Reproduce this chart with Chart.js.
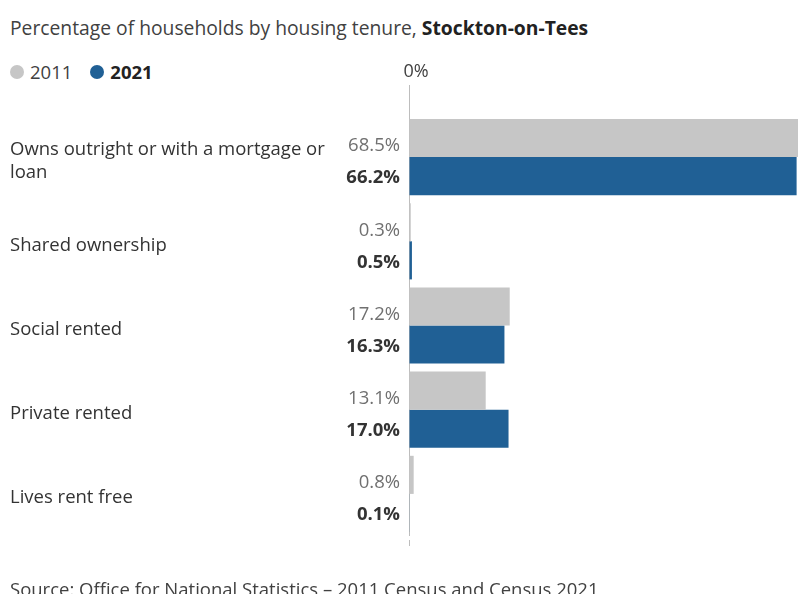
<!DOCTYPE html>
<html>
<head>
<meta charset="utf-8">
<script src="https://cdn.jsdelivr.net/npm/chart.js@4"></script>
<style>
    html, body { margin: 0; padding: 0; overflow: hidden; background: #fff; }
    body { width: 798px; height: 594px; position: relative; font-family: 'Open Sans', sans-serif; color: #414141; }
    .title { position: absolute; left: 10px; top: 14px; font-size: 19.3px; color: #414141; white-space: nowrap; }
    .title b { color: #222; }
    .legend { position: absolute; left: 10px; top: 59px; font-size: 18.5px; display: flex; align-items: center; }
    .legend .dot { display: inline-block; width: 14px; height: 14px; border-radius: 50%; margin-right: 6px; }
    .legend .item { display: flex; align-items: center; margin-right: 18px; }
    .source { position: absolute; left: 10px; top: 576px; font-size: 18.5px; color: #414141; white-space: nowrap; }
    #wrap { position: absolute; left: 0; top: 0; width: 813px; height: 594px; }
</style>
</head>
<body>
<div class="title">Percentage of households by housing tenure, <b>Stockton-on-Tees</b></div>
<div class="legend">
    <span class="item"><span class="dot" style="background:#c6c6c6"></span>2011</span>
    <span class="item"><span class="dot" style="background:#206095"></span><b style="color:#222">2021</b></span>
</div>
<div id="wrap"><canvas id="chart"></canvas></div>
<div class="source">Source: Office for National Statistics – 2011 Census and Census 2021</div>

<script>
(function() {
    'use strict';

    // ========== DONNÉES ==========
    const categories = [
        ['Owns outright or with a mortgage or', 'loan'],
        'Shared ownership',
        'Social rented',
        'Private rented',
        'Lives rent free'
    ];
    const values2011 = [68.5, 0.3, 17.2, 13.1, 0.8];
    const values2021 = [66.2, 0.5, 16.3, 17.0, 0.1];
    const seriesLabels = ['2011', '2021'];

    const FONT = "'Open Sans', sans-serif";

    // Étiquettes de valeur à gauche de l'axe
    const valueLabels = {
        id: 'valueLabels',
        afterDatasetsDraw(chart) {
            const ctx = chart.ctx;
            const x = chart.chartArea.left - 9;
            ctx.save();
            ctx.textAlign = 'right';
            ctx.textBaseline = 'middle';
            chart.data.datasets.forEach((ds, i) => {
                const meta = chart.getDatasetMeta(i);
                ctx.font = (i === 1 ? 'bold ' : '') + '18.5px ' + FONT;
                ctx.fillStyle = i === 1 ? '#333333' : '#707070';
                const dy = i === 1 ? 2 : 8;
                meta.data.forEach((bar, j) => {
                    ctx.fillText(ds.data[j].toFixed(1) + '%', x, bar.y + dy);
                });
            });
            // petit prolongement de l'axe sous le graphique
            ctx.strokeStyle = '#bdbdbd';
            ctx.lineWidth = 1;
            ctx.beginPath();
            ctx.moveTo(chart.chartArea.left + 0.5, chart.chartArea.bottom + 4);
            ctx.lineTo(chart.chartArea.left + 0.5, chart.chartArea.bottom + 10);
            ctx.stroke();
            ctx.restore();
        }
    };

    new Chart(document.getElementById('chart'), {
        type: 'bar',
        data: {
            labels: categories,
            datasets: [
                {
                    label: seriesLabels[0],
                    data: values2011,
                    backgroundColor: '#c6c6c6',
                    borderWidth: 0
                },
                {
                    label: seriesLabels[1],
                    data: values2021,
                    backgroundColor: '#206095',
                    borderWidth: 0
                }
            ]
        },
        options: {
            indexAxis: 'y',
            responsive: true,
            maintainAspectRatio: false,
            animation: false,
            layout: { padding: { left: 10, top: 58, right: 0, bottom: 58 } },
            datasets: { bar: { categoryPercentage: 0.905, barPercentage: 1 } },
            plugins: {
                legend: { display: false },
                tooltip: { enabled: false }
            },
            scales: {
                x: {
                    position: 'top',
                    min: 0,
                    max: 69,
                    afterBuildTicks: (scale) => { scale.ticks = [{ value: 0 }]; },
                    afterFit: (scale) => { scale.height = 57; },
                    border: { display: false },
                    grid: {
                        color: '#bdbdbd',
                        lineWidth: 1,
                        tickLength: 30,
                        drawTicks: true
                    },
                    ticks: {
                        padding: 2,
                        labelOffset: 7,
                        color: '#414141',
                        font: { family: FONT, size: 18 },
                        callback: (v) => v + '%'
                    }
                },
                y: {
                    afterFit: (scale) => { scale.width = 399; },
                    border: { display: false },
                    grid: { display: false },
                    ticks: {
                        crossAlign: 'far',
                        labelOffset: 4,
                        color: '#333333',
                        font: { family: FONT, size: 18.5, lineHeight: 1.27 }
                    }
                }
            }
        },
        plugins: [valueLabels]
    });
})();
</script>
</body>
</html>
